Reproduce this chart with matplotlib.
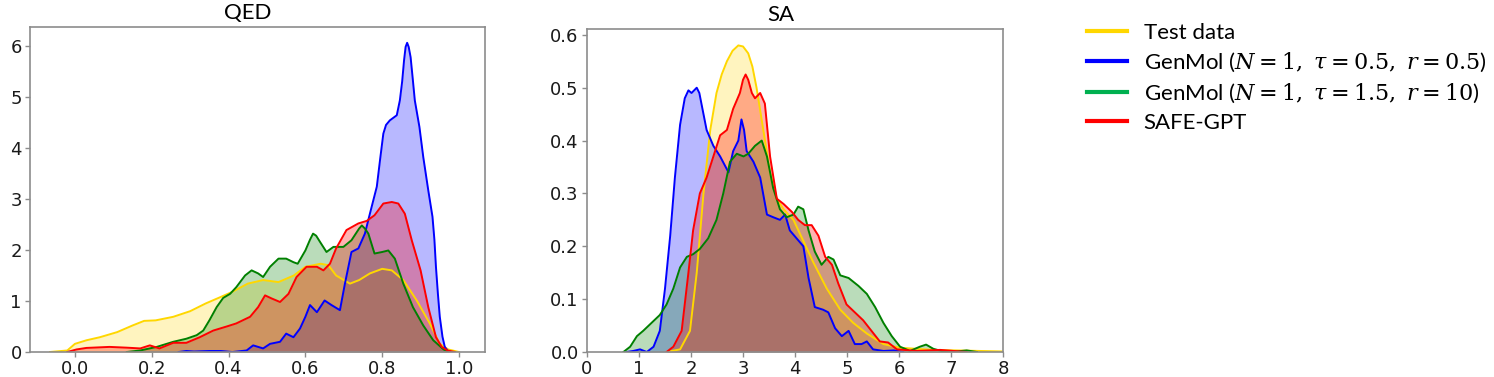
import matplotlib
matplotlib.use("Agg")
import matplotlib.pyplot as plt
from matplotlib.lines import Line2D

plt.rcParams['mathtext.fontset'] = 'dejavuserif'

# ---- QED density curves ----
qed_test_x = [-0.065, -0.02, 0.0, 0.03, 0.065, 0.11, 0.15, 0.18, 0.21, 0.256, 0.3, 0.34, 0.38, 0.41,
              0.45, 0.49, 0.53, 0.57, 0.6, 0.64, 0.66, 0.68, 0.716, 0.74, 0.768, 0.8, 0.825, 0.855,
              0.89, 0.924, 0.95, 0.972, 1.0]
qed_test_y = [0.0, 0.03, 0.16, 0.23, 0.29, 0.39, 0.52, 0.61, 0.62, 0.69, 0.80, 0.95, 1.08, 1.18,
              1.34, 1.41, 1.37, 1.50, 1.67, 1.73, 1.70, 1.50, 1.34, 1.41, 1.54, 1.63, 1.60, 1.41,
              1.01, 0.56, 0.16, 0.05, 0.0]

qed_blue_x = [0.27, 0.29, 0.31, 0.35, 0.38, 0.41, 0.447, 0.464, 0.49, 0.508, 0.534, 0.55, 0.569, 0.586,
              0.6, 0.612, 0.63, 0.65, 0.668, 0.69, 0.703, 0.72, 0.738, 0.755, 0.768, 0.786, 0.795, 0.803,
              0.81, 0.82, 0.838, 0.846, 0.852, 0.857, 0.861, 0.865, 0.869, 0.874, 0.879, 0.885, 0.897,
              0.907, 0.92, 0.931, 0.936, 0.94, 0.945, 0.95, 0.957, 0.963, 0.97, 0.976]
qed_blue_y = [0.0, 0.02, 0.01, 0.02, 0.02, 0.0, 0.03, 0.13, 0.07, 0.16, 0.20, 0.36, 0.29, 0.46,
              0.69, 0.92, 0.78, 1.01, 0.92, 0.82, 1.34, 1.96, 2.03, 2.32, 2.71, 3.24, 3.80, 4.28,
              4.45, 4.54, 4.64, 4.93, 5.30, 5.72, 5.98, 6.06, 5.98, 5.78, 5.40, 4.93, 4.41,
              3.82, 3.17, 2.65, 2.20, 1.67, 1.15, 0.69, 0.30, 0.10, 0.03, 0.0]

qed_green_x = [0.135, 0.17, 0.213, 0.256, 0.29, 0.317, 0.334, 0.35, 0.369, 0.386, 0.404, 0.42, 0.443,
               0.46, 0.477, 0.49, 0.508, 0.53, 0.55, 0.569, 0.58, 0.6, 0.612, 0.62, 0.628, 0.638, 0.655,
               0.673, 0.699, 0.72, 0.74, 0.747, 0.755, 0.764, 0.78, 0.8, 0.816, 0.833, 0.855, 0.88, 0.907,
               0.933, 0.96, 0.976]
qed_green_y = [0.0, 0.03, 0.10, 0.20, 0.26, 0.33, 0.42, 0.62, 0.88, 1.06, 1.14, 1.27, 1.50,
               1.60, 1.54, 1.47, 1.67, 1.83, 1.83, 1.76, 1.73, 1.99, 2.20, 2.32, 2.28, 2.16, 1.96,
               2.06, 2.06, 2.19, 2.42, 2.48, 2.42, 2.32, 1.93, 1.96, 1.99, 1.83, 1.34, 0.88, 0.52,
               0.23, 0.05, 0.0]

qed_red_x = [-0.02, 0.004, 0.03, 0.09, 0.135, 0.17, 0.195, 0.22, 0.256, 0.29, 0.325, 0.36, 0.395,
             0.42, 0.456, 0.477, 0.495, 0.512, 0.534, 0.556, 0.577, 0.603, 0.63, 0.647, 0.664, 0.68,
             0.707, 0.738, 0.76, 0.78, 0.803, 0.825, 0.842, 0.859, 0.877, 0.9, 0.92, 0.94, 0.955,
             0.97, 0.99]
qed_red_y = [0.0, 0.05, 0.08, 0.10, 0.085, 0.07, 0.13, 0.07, 0.18, 0.18, 0.29, 0.42, 0.50,
             0.56, 0.69, 0.88, 1.11, 1.05, 0.98, 1.14, 1.47, 1.67, 1.67, 1.60, 1.73, 2.03,
             2.39, 2.52, 2.57, 2.68, 2.91, 2.94, 2.91, 2.71, 2.19, 1.60, 0.88, 0.29, 0.10,
             0.03, 0.0]

# ---- SA density curves ----
sa_test_x = [1.53, 1.79, 1.98, 2.11, 2.24, 2.37, 2.49, 2.59, 2.69, 2.8, 2.91, 3.0, 3.1, 3.18, 3.26, 3.39,
             3.52, 3.65, 3.78, 3.97, 4.16, 4.35, 4.61, 4.87, 5.12, 5.38, 5.7, 6.02, 6.66, 8.0]
sa_test_y = [0.0, 0.005, 0.04, 0.15, 0.30, 0.42, 0.49, 0.525, 0.55, 0.57, 0.58, 0.578, 0.565, 0.54, 0.50, 0.42,
             0.34, 0.29, 0.27, 0.25, 0.21, 0.17, 0.12, 0.08, 0.055, 0.035, 0.015, 0.008, 0.004, 0.001]

sa_blue_x = [0.76, 0.89, 1.02, 1.15, 1.28, 1.4, 1.5, 1.6, 1.69, 1.79, 1.88, 1.95, 2.01, 2.11, 2.16, 2.2, 2.3,
             2.43, 2.56, 2.72, 2.81, 2.91, 2.97, 3.02, 3.07, 3.2, 3.33, 3.46, 3.58, 3.71, 3.81, 3.9, 4.03,
             4.16, 4.26, 4.38, 4.54, 4.64, 4.77, 4.9, 5.03, 5.15, 5.28, 5.38, 5.5, 5.7, 5.9, 6.08]
sa_blue_y = [0.0, 0.002, 0.005, 0.0, 0.01, 0.04, 0.12, 0.22, 0.33, 0.43, 0.48, 0.495, 0.49, 0.50, 0.49, 0.47,
             0.42, 0.39, 0.37, 0.34, 0.38, 0.40, 0.44, 0.42, 0.38, 0.36, 0.33, 0.26, 0.255, 0.25, 0.26, 0.23,
             0.215, 0.20, 0.14, 0.085, 0.08, 0.075, 0.045, 0.03, 0.04, 0.015, 0.015, 0.02, 0.005, 0.002,
             0.003, 0.0]

sa_green_x = [0.7, 0.83, 0.96, 1.08, 1.24, 1.4, 1.53, 1.66, 1.79, 1.92, 2.04, 2.17, 2.33, 2.49, 2.62,
              2.75, 2.88, 3.01, 3.1, 3.23, 3.36, 3.46, 3.58, 3.71, 3.84, 3.97, 4.06, 4.16, 4.26, 4.38,
              4.51, 4.64, 4.74, 4.87, 5.03, 5.22, 5.38, 5.54, 5.7, 5.86, 6.02, 6.21, 6.4, 6.52, 6.66,
              6.85, 7.1, 7.3, 7.5]
sa_green_y = [0.0, 0.01, 0.03, 0.04, 0.055, 0.07, 0.09, 0.12, 0.16, 0.18, 0.185, 0.195, 0.215, 0.25, 0.30,
              0.36, 0.375, 0.37, 0.375, 0.39, 0.40, 0.37, 0.31, 0.27, 0.255, 0.26, 0.275, 0.27, 0.23, 0.19,
              0.165, 0.18, 0.175, 0.145, 0.14, 0.125, 0.11, 0.085, 0.055, 0.03, 0.01, 0.002, 0.01, 0.014,
              0.006, 0.001, 0.001, 0.003, 0.0]

sa_red_x = [1.53, 1.66, 1.82, 1.95, 2.04, 2.17, 2.3, 2.43, 2.56, 2.69, 2.81, 2.94, 3.0, 3.05, 3.1, 3.17,
            3.23, 3.33, 3.42, 3.52, 3.65, 3.78, 3.94, 4.06, 4.19, 4.32, 4.45, 4.58, 4.71, 4.83, 4.99,
            5.15, 5.31, 5.47, 5.63, 5.79, 5.96, 6.34, 6.79, 7.3]
sa_red_y = [0.0, 0.01, 0.04, 0.15, 0.23, 0.30, 0.33, 0.37, 0.41, 0.42, 0.46, 0.49, 0.515, 0.525, 0.515, 0.49,
            0.48, 0.49, 0.47, 0.37, 0.29, 0.28, 0.265, 0.25, 0.24, 0.24, 0.22, 0.18, 0.165, 0.13, 0.09,
            0.075, 0.06, 0.04, 0.02, 0.018, 0.005, 0.002, 0.004, 0.0]

labels = ['Test data',
          r'GenMol ($N=1,\ \tau=0.5,\ r=0.5$)',
          r'GenMol ($N=1,\ \tau=1.5,\ r=10$)',
          'SAFE-GPT']
line_colors = ['#FFD700', '#0000FF', '#008000', '#FF0000']
legend_colors = ['#FFD700', '#0000FF', '#00B050', '#FF0000']
fill_alpha = [0.25, 0.28, 0.27, 0.3]

fig = plt.figure(figsize=(14.94, 3.77), dpi=100)
ax1 = fig.add_axes([0.0201, 0.0663, 0.3046, 0.8621])
ax2 = fig.add_axes([0.3929, 0.0663, 0.2785, 0.8567])

qed_curves = [(qed_test_x, qed_test_y), (qed_blue_x, qed_blue_y),
              (qed_green_x, qed_green_y), (qed_red_x, qed_red_y)]
sa_curves = [(sa_test_x, sa_test_y), (sa_blue_x, sa_blue_y),
             (sa_green_x, sa_green_y), (sa_red_x, sa_red_y)]

for ax, curves in [(ax1, qed_curves), (ax2, sa_curves)]:
    for (x, y), c, a in zip(curves, line_colors, fill_alpha):
        ax.fill_between(x, y, 0, color=c, alpha=a, linewidth=0)
        ax.plot(x, y, color=c, linewidth=1.4, solid_joinstyle='round')

ax1.set_xlim(-0.117, 1.068)
ax1.set_ylim(0, 6.37)
ax1.set_xticks([0.0, 0.2, 0.4, 0.6, 0.8, 1.0])
ax1.set_yticks([0, 1, 2, 3, 4, 5, 6])
ax1.set_title('QED', fontsize=16, family='Lato', pad=6, x=0.479)

ax2.set_xlim(0, 8)
ax2.set_ylim(0, 0.611)
ax2.set_xticks(range(9))
ax2.set_yticks([0.0, 0.1, 0.2, 0.3, 0.4, 0.5, 0.6])
ax2.set_yticklabels(['0.0', '0.1', '0.2', '0.3', '0.4', '0.5', '0.6'])
ax2.set_title('SA', fontsize=16, family='Lato', pad=6, x=0.466)

for ax in (ax1, ax2):
    for s in ax.spines.values():
        s.set_color('#8c8c8c')
        s.set_linewidth(1.2)
    ax.tick_params(direction='out', length=3.5, width=1, color='#8c8c8c',
                   labelsize=13, labelcolor='#1a1a1a', pad=2.5)

handles = [Line2D([0], [0], color=c, lw=3) for c in legend_colors]
fig.legend(handles, labels, loc='upper left', bbox_to_anchor=(0.7276, 0.939),
           frameon=False, borderpad=0, borderaxespad=0, handlelength=1.8,
           handletextpad=0.75, labelspacing=0.35, prop={'family': 'Lato', 'size': 16})

fig.savefig('out.png', dpi=100)
